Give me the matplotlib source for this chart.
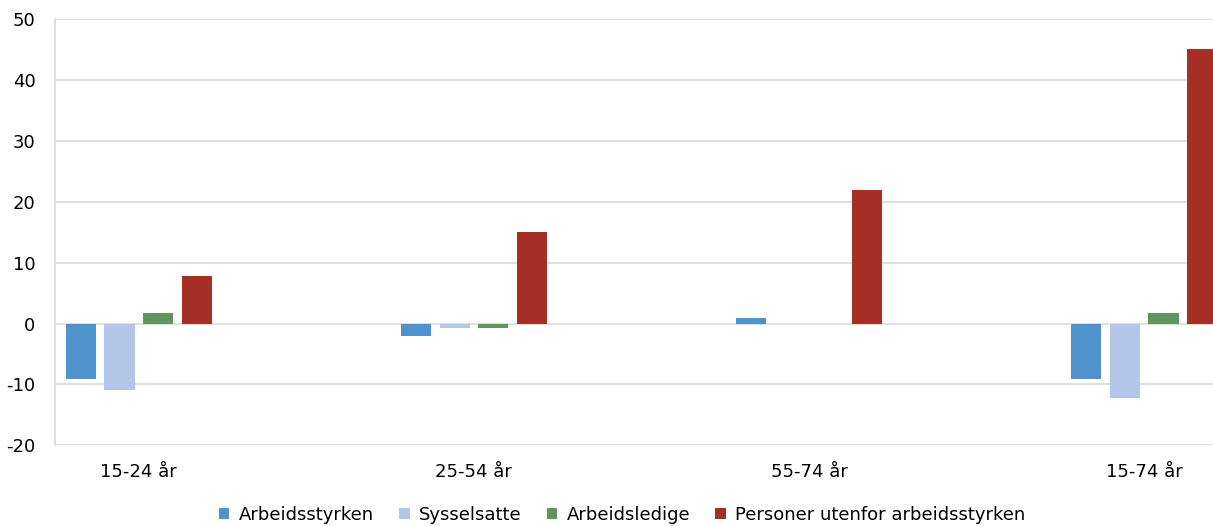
import matplotlib
matplotlib.use("Agg")
import matplotlib.pyplot as plt
import numpy as np

plt.rcParams['axes.unicode_minus'] = False
plt.rcParams['font.family'] = ['DejaVu Sans']

categories = ["15-24 år", "25-54 år", "55-74 år", "15-74 år"]
series_names = ["Arbeidsstyrken", "Sysselsatte", "Arbeidsledige", "Personer utenfor arbeidsstyrken"]
arbeidsstyrken = [-9.1, -2.1, 0.9, -9.1]
sysselsatte = [-10.9, -0.8, 0.0, -12.2]
arbeidsledige = [1.75, -0.8, 0.0, 1.75]
personer_utenfor = [7.9, 15.0, 21.9, 45.1]
colors = ["#4f93ce", "#b4c6e7", "#629460", "#a52f25"]

values = [arbeidsstyrken, sysselsatte, arbeidsledige, personer_utenfor]

fig = plt.figure(figsize=(12.13, 5.26), dpi=100)
ax = fig.add_axes([55/1213, 80.7/526, (1228-55)/1213, (506.7-80.7)/526])

x = np.arange(len(categories))
step = 0.115
width = 0.09
offsets = [-1.5*step, -0.5*step, 0.5*step, 1.5*step]
for vals, name, col, off in zip(values, series_names, colors, offsets):
    ax.bar(x + off, vals, width=width, color=col, label=name,
           linewidth=0, zorder=3)

ax.set_xlim(-0.25, 3.25)
ax.set_ylim(-20, 50)
ax.set_yticks(np.arange(-20, 51, 10))
ax.set_xticks(x)
ax.set_xticklabels(categories)
ax.grid(axis='y', color='#d9d9d9', linewidth=1.2, zorder=0)
ax.set_axisbelow(True)
for s in ['top', 'right', 'bottom']:
    ax.spines[s].set_visible(False)
ax.spines['left'].set_color('#d9d9d9')
ax.spines['left'].set_linewidth(1.2)
ax.tick_params(axis='both', length=0, labelsize=13, colors='black')
ax.tick_params(axis='x', pad=13)
ax.tick_params(axis='y', pad=14)

leg = fig.legend(loc='center', bbox_to_anchor=(622/1213, 1 - 515/526), ncol=4,
                 frameon=False, fontsize=13, handlelength=0.6, handleheight=0.6,
                 handletextpad=0.5, columnspacing=1.4)

fig.savefig("out.png", dpi=100)
